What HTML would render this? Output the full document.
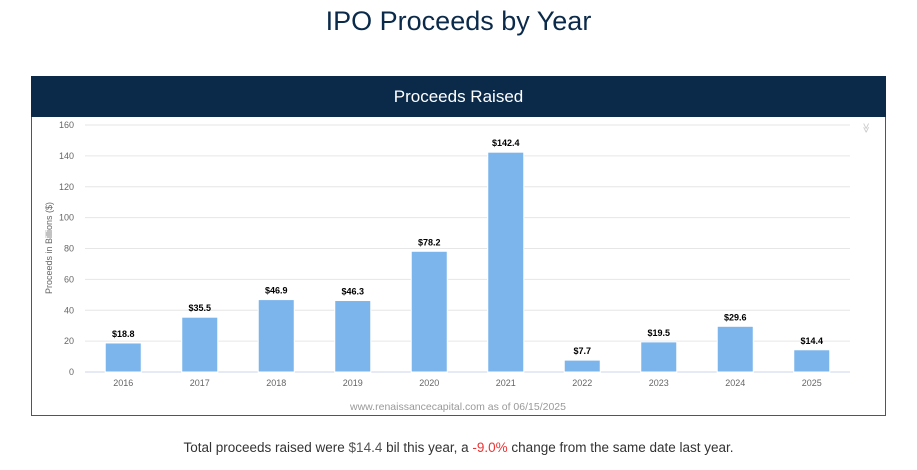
<!DOCTYPE html>
<html><head><meta charset="utf-8"><style>
body{margin:0;width:917px;height:470px;background:#fff;font-family:"Liberation Sans",sans-serif;overflow:hidden;position:relative}
#title{position:absolute;top:6px;left:0;width:917px;text-align:center;font-size:27px;color:#0b2a4a}
#box{position:absolute;left:31px;top:76px;width:853px;height:339px;border:1px solid #555;border-top:none}
#hdr{position:absolute;left:31px;top:76px;width:855px;height:41px;background:#0b2a4a;color:#fff;font-size:17px;text-align:center;line-height:41px}
#foot{position:absolute;top:440px;left:0;width:917px;text-align:center;font-size:13.5px;color:#333}
svg{position:absolute;left:0;top:0}
</style></head><body>
<div id="title">IPO Proceeds by Year</div>
<div id="box"></div>
<div id="hdr">Proceeds Raised</div>
<svg id="chart" width="917" height="470"></svg>
<div id="foot">Total proceeds raised were <span style="color:#555">$14.4</span> bil this year, a <span style="color:#e33">-9.0%</span> change from the same date last year.</div>
<script>
const categories=["2016","2017","2018","2019","2020","2021","2022","2023","2024","2025"];
const values=[18.8,35.5,46.9,46.3,78.2,142.4,7.7,19.5,29.6,14.4];
const labels=["$18.8","$35.5","$46.9","$46.3","$78.2","$142.4","$7.7","$19.5","$29.6","$14.4"];
const yTicks=[0,20,40,60,80,100,120,140,160];
const svg=document.getElementById('chart');const NS="http://www.w3.org/2000/svg";
const X0=85,X1=850,Y0=372,Y1=125,YMAX=160;
const bw=(X1-X0)/categories.length;
const y=v=>Y0-(v/YMAX)*(Y0-Y1);
const xc=i=>X0+bw*(i+0.5);
function mk(t,a,txt){const e=document.createElementNS(NS,t);for(const k in a)e.setAttribute(k,a[k]);if(txt!=null)e.textContent=txt;svg.appendChild(e);return e;}
yTicks.forEach(t=>{
 const g=mk('line',{x1:X0,x2:X1,y1:y(t),y2:y(t),stroke:t===0?'#ccd6eb':'#e6e6e6','stroke-width':1});
 
 
 const l=mk('text',{x:74,y:y(t)+3,'text-anchor':'end','font-size':9,fill:'#666'},t);
 
 
});
const yt=mk('text',{x:52,y:248,'text-anchor':'middle','font-size':9,fill:'#666',transform:'rotate(-90 52 248)'},'Proceeds in Billions ($)');


categories.forEach((c,i)=>{
 const r=mk('rect',{x:xc(i)-18,y:y(values[i]),width:36,height:Y0-y(values[i]),fill:'#7cb5ec',stroke:'#fff','stroke-width':1});
 
 
 const v=mk('text',{x:xc(i),y:y(values[i])-6,'text-anchor':'middle','font-size':9,'font-weight':'bold',fill:'#000'},labels[i]);
 
 
 const t=mk('text',{x:xc(i),y:386,'text-anchor':'middle','font-size':9,fill:'#666'},c);
 
 
});
const cr=mk('text',{x:458,y:410,'text-anchor':'middle','font-size':10.5,fill:'#999'},'www.renaissancecapital.com as of 06/15/2025');


const ic=mk('text',{x:866,y:131,'text-anchor':'middle','font-size':10,fill:'#ccc'},'≫');
ic.setAttribute('transform','rotate(90 866 128)');


</script>
</body></html>
